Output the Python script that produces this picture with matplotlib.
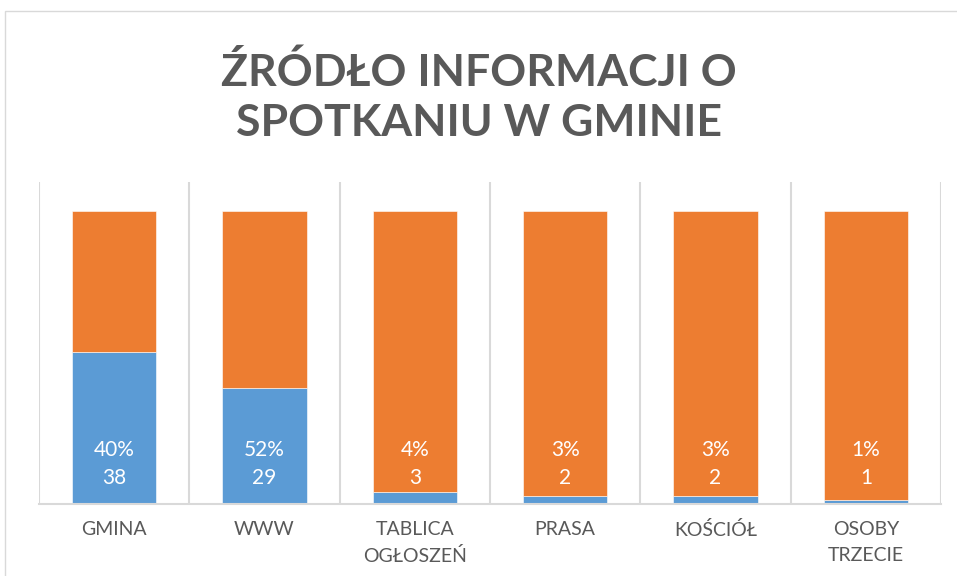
import matplotlib
matplotlib.use('Agg')
import matplotlib.pyplot as plt
from matplotlib.patches import Rectangle
import numpy as np

plt.rcParams['font.family'] = ['Lato', 'DejaVu Sans']

categories = ['GMINA', 'WWW', 'TABLICA\nOGŁOSZEŃ', 'PRASA', 'KOŚCIÓŁ', 'OSOBY\nTRZECIE']
counts = [38, 29, 3, 2, 2, 1]
total = 73
pct_labels = ['40%', '52%', '4%', '3%', '3%', '1%']

blue = '#5B9BD5'
orange = '#ED7D31'
grey = '#595959'

share = np.array(counts) / total
rest = 1 - share
x = np.arange(len(categories))

fig = plt.figure(figsize=(9.57, 5.76), dpi=100)
ax = fig.add_axes([39/957, 1 - 504/576, (941 - 39)/957, (504 - 182)/576])

ax.bar(x, share, width=0.56, color=blue, edgecolor='white', linewidth=0.4)
ax.bar(x, rest, width=0.56, bottom=share, color=orange, edgecolor='white', linewidth=0.4)

for xi, p, c in zip(x, pct_labels, counts):
    ax.text(xi, 0.135, '%s\n%d' % (p, c), ha='center', va='center', color='white',
            fontsize=15, linespacing=1.5)

ax.set_xlim(-0.5, len(categories) - 0.5)
ax.set_ylim(0, 1.1)
ax.set_yticks([])
ax.set_xticks(x)
ax.set_xticklabels(categories, color=grey, fontsize=14, linespacing=1.65)
ax.tick_params(axis='x', length=0, pad=12)
for b in np.arange(-0.5, len(categories), 1.0):
    ax.axvline(b, color='#D9D9D9', linewidth=1.5, zorder=0)
for s in ['top', 'left', 'right']:
    ax.spines[s].set_visible(False)
ax.spines['bottom'].set_color('#D9D9D9')
ax.spines['bottom'].set_linewidth(1.5)

fig.text(0.5, 1 - 97/576, 'ŹRÓDŁO INFORMACJI O\nSPOTKANIU W GMINIE', ha='center', va='center',
         fontsize=32, fontweight='bold', color=grey, linespacing=1.3)

fig.patches.append(Rectangle((5/957, -0.02), 1.0, 1 - 11/576 + 0.02, transform=fig.transFigure,
                             fill=False, edgecolor='#D9D9D9', linewidth=1))

fig.savefig('out.png', dpi=100)
